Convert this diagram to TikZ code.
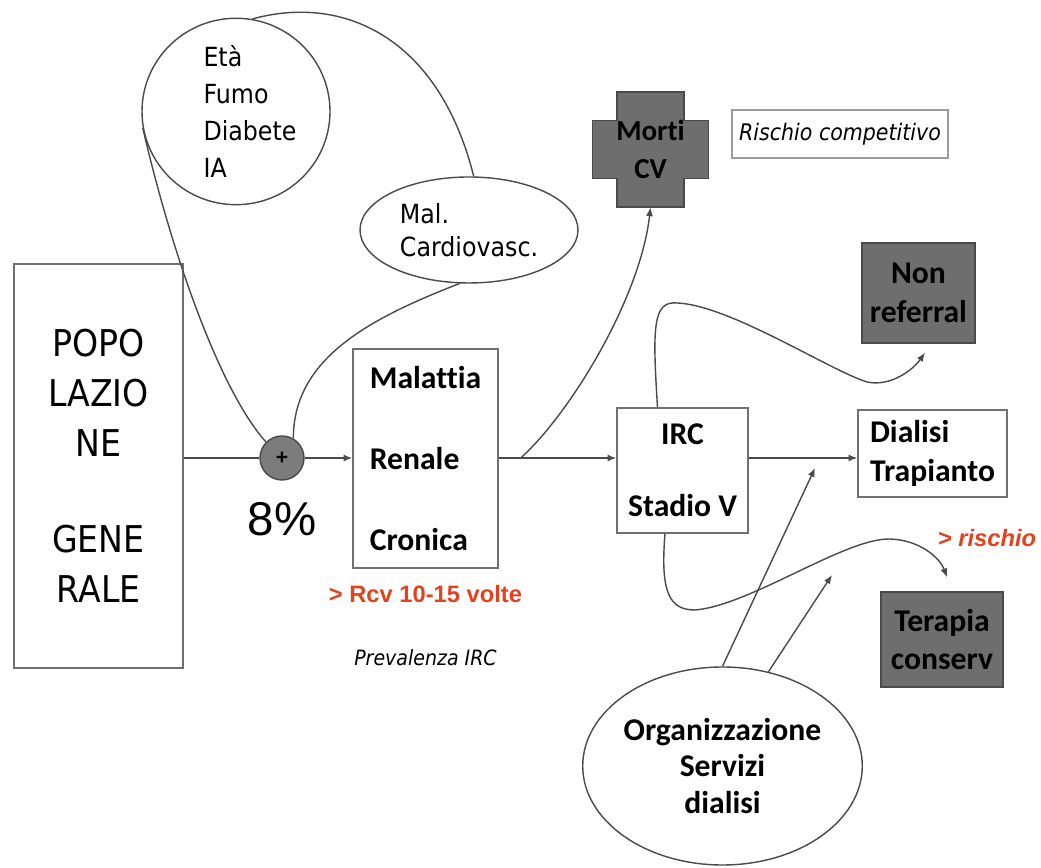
\documentclass[tikz,border=0pt]{standalone}
\usepackage{fontspec}
\setmainfont{Carlito}[Ligatures=NoCommon]
\newfontfamily\tahoma{DejaVu Sans}[FakeStretch=0.9]
\newfontfamily\arial{Liberation Sans}
\usetikzlibrary{shapes.geometric, arrows.meta, positioning, calc, backgrounds}
\definecolor{linegray}{HTML}{4A4A4A}
\definecolor{boxgray}{HTML}{707070}
\definecolor{darkfill}{HTML}{6E6E6E}
\definecolor{sumgray}{HTML}{7C7C7C}
\definecolor{alertred}{HTML}{E2431E}

\begin{document}
\begin{tikzpicture}[
    >={Latex[length=5pt,width=4pt]},
    box/.style={draw=boxgray, line width=0.8pt, inner sep=0pt, font=\bfseries\fontsize{18}{22}\selectfont},
    darkbox/.style={box, fill=darkfill, draw=linegray},
    oval/.style={ellipse, draw=linegray, line width=0.8pt, inner sep=0pt},
    flow/.style={draw=linegray, line width=0.8pt},
    note/.style={inner sep=0pt, font=\tahoma\itshape\fontsize{12}{14}\selectfont},
    alert/.style={inner sep=0pt, text=alertred, font=\arial\bfseries\fontsize{13.5}{15}\selectfont}
  ]
    \useasboundingbox (0,0) rectangle (20.82,17.36);

    \node[box, font=\tahoma\fontsize{21}{28.5}\selectfont, minimum width=3.38cm, minimum height=8.08cm, align=center] (pop) at (1.97,8.04) {POPO\\LAZIO\\NE\\[26pt]GENE\\RALE};
    \node[circle, draw=linegray, fill=sumgray, line width=0.8pt, minimum size=0.88cm, inner sep=0pt, font=\arial\bfseries\fontsize{12}{12}\selectfont] (plus) at (5.64,8.2) {+};
    \node[below=0.42cm of plus, inner sep=0pt, font=\arial\fontsize{27}{30}\selectfont] (pct) {8\%};
    \node[box, font=\bfseries\fontsize{18}{46}\selectfont, minimum width=2.9cm, minimum height=4.38cm, align=left] (mrc) at (8.51,8.19) {Malattia\\Renale\\Cronica};
    \node[alert, below=0.32cm of mrc] (rcv) {> Rcv 10-15 volte};
    \node[note, below=0.92cm of rcv] (prev) {Prevalenza IRC};
    \node[box, font=\bfseries\fontsize{18}{41}\selectfont, minimum width=2.62cm, minimum height=2.5cm, align=center] (irc) at (13.65,7.95) {IRC\\Stadio V};
    \node[box, minimum width=2.98cm, minimum height=1.74cm, align=left] (dial) at (18.65,8.29) {Dialisi\\Trapianto};
    \node[darkbox, minimum width=2.26cm, minimum height=2.0cm, align=center] (nonref) at (18.37,11.5) {Non\\referral};
    \node[darkbox, minimum width=2.44cm, minimum height=1.9cm, align=center] (ter) at (18.84,4.57) {Terapia\\conserv};
    \node[alert, font=\arial\bfseries\itshape\fontsize{13.5}{15}\selectfont] (risklabel) at (19.74,6.6) {> rischio};
    \node[oval, font=\bfseries\fontsize{18}{21}\selectfont, minimum width=5.42cm, minimum height=3.96cm, align=center] (org) at (14.45,2.04) {Organizzazione\\Servizi\\dialisi};
    \node[oval, font=\tahoma\fontsize{15}{21}\selectfont, minimum width=3.76cm, minimum height=3.46cm, text width=1.3cm, align=left] (eta) at (4.72,15.13) {Età\\Fumo\\Diabete\\IA};
    \node[oval, font=\tahoma\fontsize{15}{19}\selectfont, minimum width=4.36cm, minimum height=2.12cm, align=left] (mal) at (9.38,12.76) {Mal.\\Cardiovasc.};
    \node[font=\bfseries\fontsize{16.5}{21.5}\selectfont, minimum width=1.34cm, minimum height=2.3cm, inner sep=0pt, align=center] (morti) at (13.01,14.37) {Morti\\CV};
    \node[box, draw=boxgray!70, font=\tahoma\itshape\fontsize{13}{15}\selectfont, minimum width=4.32cm, minimum height=0.96cm] (risk) at (16.8,14.68) {Rischio competitivo};

    \begin{scope}[on background layer]
      \fill[white] (0,0) rectangle (20.82,17.36);
      \filldraw[fill=darkfill, draw=linegray, line width=0.8pt, shift={(morti.center)}]
        (-0.67,1.15) -- (0.67,1.15) -- (0.67,0.58) -- (1.16,0.58) -- (1.16,-0.58) -- (0.67,-0.58) -- (0.67,-1.15)
        -- (-0.67,-1.15) -- (-0.67,-0.58) -- (-1.16,-0.58) -- (-1.16,0.58) -- (-0.67,0.58) -- cycle;
    \end{scope}

    \coordinate (split) at ($(plus -| mrc.east)+(0.44,0)$);
    \coordinate (orgtipA) at (16.3,8.0);
    \coordinate (orgtipB) at (16.64,5.86);

    \draw[flow] (pop.east |- plus) -- (plus.west);
    \draw[flow, ->] (plus.east) -- (plus -| mrc.west);
    \draw[flow] (plus -| mrc.east) -- (split);
    \draw[flow, ->] (split) -- (plus -| irc.west);
    \draw[flow, ->] (split) .. controls +(1.0,0.9) and +(-0.2,-1.8) .. (morti.south);
    \draw[flow, ->] (plus -| irc.east) -- (plus -| dial.west);

    \draw[flow] (eta.190) .. controls +(0.6,-2.6) and +(-0.9,1.0) .. (plus.135);
    \draw[flow] (eta.80) .. controls +(1.8,0.5) and +(-0.7,2.8) .. (mal.85);
    \draw[flow] (mal.260) .. controls +(-1.8,-0.7) and +(0,1.6) .. (plus.60);

    \draw[flow, ->] ($(irc.north)+(-0.5,0)$) .. controls +(-0.1,1.6) and +(-0.5,0.05) .. (13.55,11.3)
      .. controls (14.6,11.25) and (16.6,9.95) .. (17.34,9.72)
      .. controls (17.8,9.62) and (18.25,9.95) .. ($(nonref.south)+(0.13,-0.18)$);
    \draw[flow, ->] ($(irc.south)+(-0.35,0)$) .. controls +(-0.1,-1.2) and +(-0.5,0) .. (13.9,5.16)
      .. controls (15.0,5.25) and (16.9,6.6) .. (17.8,6.58)
      .. controls (18.4,6.56) and (18.8,6.2) .. ($(ter.north)+(0.1,0.28)$);

    \draw[flow, ->] (org.north) -- (orgtipA);
    \draw[flow, ->] (org.64) -- (orgtipB);
\end{tikzpicture}
\end{document}
